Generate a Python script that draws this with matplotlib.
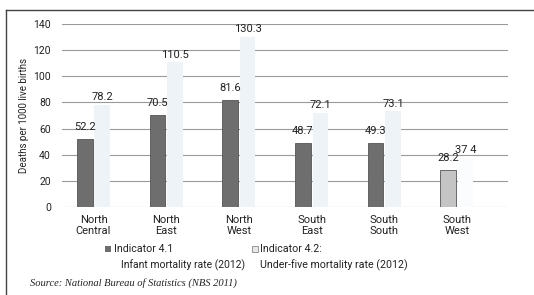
import matplotlib
matplotlib.use("Agg")
import matplotlib.pyplot as plt
from matplotlib.patches import Rectangle
import numpy as np

categories = ["North\nCentral", "North\nEast", "North\nWest", "South\nEast", "South\nSouth", "South\nWest"]
infant = [52.2, 70.5, 81.6, 48.7, 49.3, 28.2]
under5 = [78.2, 110.5, 130.3, 72.1, 73.1, 37.4]
infant_labels = ["52.2", "70.5", "81.6", "48.7", "49.3", "28.2"]
under5_labels = ["78.2", "110.5", "130.3", "72.1", "73.1", "37 4"]
yticks = [0, 20, 40, 60, 80, 100, 120, 140]

plt.rcParams['font.family'] = ['Roboto', 'DejaVu Sans']

fig = plt.figure(figsize=(5.34, 2.95), dpi=100)
ax = fig.add_axes([0.116, 0.298, 0.835, 0.621])

x = np.arange(len(categories))
w = 0.215
dark_colors = ['#6e6e6e'] * 5 + ['#c4c4c4']
light_colors = ['#edf3f6'] * 5 + ['#fbfcfd']

for yv in yticks:
    ax.axhline(yv, color='#9a9a9a', lw=0.8, zorder=0)

ax.bar(x - 0.12, infant, width=w, color=dark_colors, edgecolor='#555555', linewidth=0.6, zorder=2)
ax.bar(x + 0.12, under5, width=w, color=light_colors, edgecolor='none', zorder=2)

fs = 8
for i in range(len(categories)):
    ax.annotate(infant_labels[i], (x[i] - 0.12, infant[i]), xytext=(0, 5), textcoords='offset points',
                ha='center', va='bottom', fontsize=fs, color='#222222', zorder=3)
    ax.annotate(under5_labels[i], (x[i] + 0.12, under5[i]), xytext=(0, 2), textcoords='offset points',
                ha='center', va='bottom', fontsize=fs, color='#222222', zorder=3)

ax.set_xlim(-0.435, 5.7)
ax.set_ylim(0, 140)
ax.set_yticks(yticks)
ax.set_xticks(x)
ax.set_xticklabels(categories, fontsize=fs, linespacing=1.1)
ax.tick_params(axis='both', length=0, colors='#222222')
ax.tick_params(axis='y', pad=8, labelsize=7.5)
ax.tick_params(axis='x', pad=6, labelsize=fs)
for s in ax.spines.values():
    s.set_visible(False)
ax.set_ylabel("Deaths per 1000 live births", fontsize=7, color='#222222')
ax.yaxis.set_label_coords(-0.074, 0.5)

# legend entries
fig.patches.append(Rectangle((105 / 534, 1 - 252 / 295), 6 / 534, 6 / 295, transform=fig.transFigure,
                             facecolor='#6e6e6e', edgecolor='none'))
fig.text(114 / 534, 1 - 249 / 295, "Indicator 4.1", fontsize=7.7, va='center', ha='left', color='#222222')
fig.text(121 / 534, 1 - 265 / 295, "Infant mortality rate (2012)", fontsize=7.5, va='center', ha='left', color='#222222')
fig.patches.append(Rectangle((252 / 534, 1 - 252 / 295), 6 / 534, 6 / 295, transform=fig.transFigure,
                             facecolor='#e8e8e8', edgecolor='#888888', linewidth=0.6))
fig.text(260 / 534, 1 - 249 / 295, "Indicator 4.2:", fontsize=7.7, va='center', ha='left', color='#222222')
fig.text(260 / 534, 1 - 265 / 295, "Under-five mortality rate (2012)", fontsize=7.7, va='center', ha='left', color='#222222')

fig.text(30 / 534, 1 - 283 / 295, "Source: National Bureau of Statistics (NBS 2011)", fontsize=7.6,
         style='italic', family=['Liberation Serif', 'DejaVu Serif'], va='center', ha='left', color='#222222')

# page frame lines
fig.add_artist(plt.Line2D([6 / 534, 6 / 534], [0, 1 - 10 / 295], color='#444444', lw=1.0, transform=fig.transFigure))
fig.add_artist(plt.Line2D([6 / 534, 1], [1 - 10 / 295, 1 - 10 / 295], color='#444444', lw=1.0, transform=fig.transFigure))

fig.savefig("out.png", dpi=100)
